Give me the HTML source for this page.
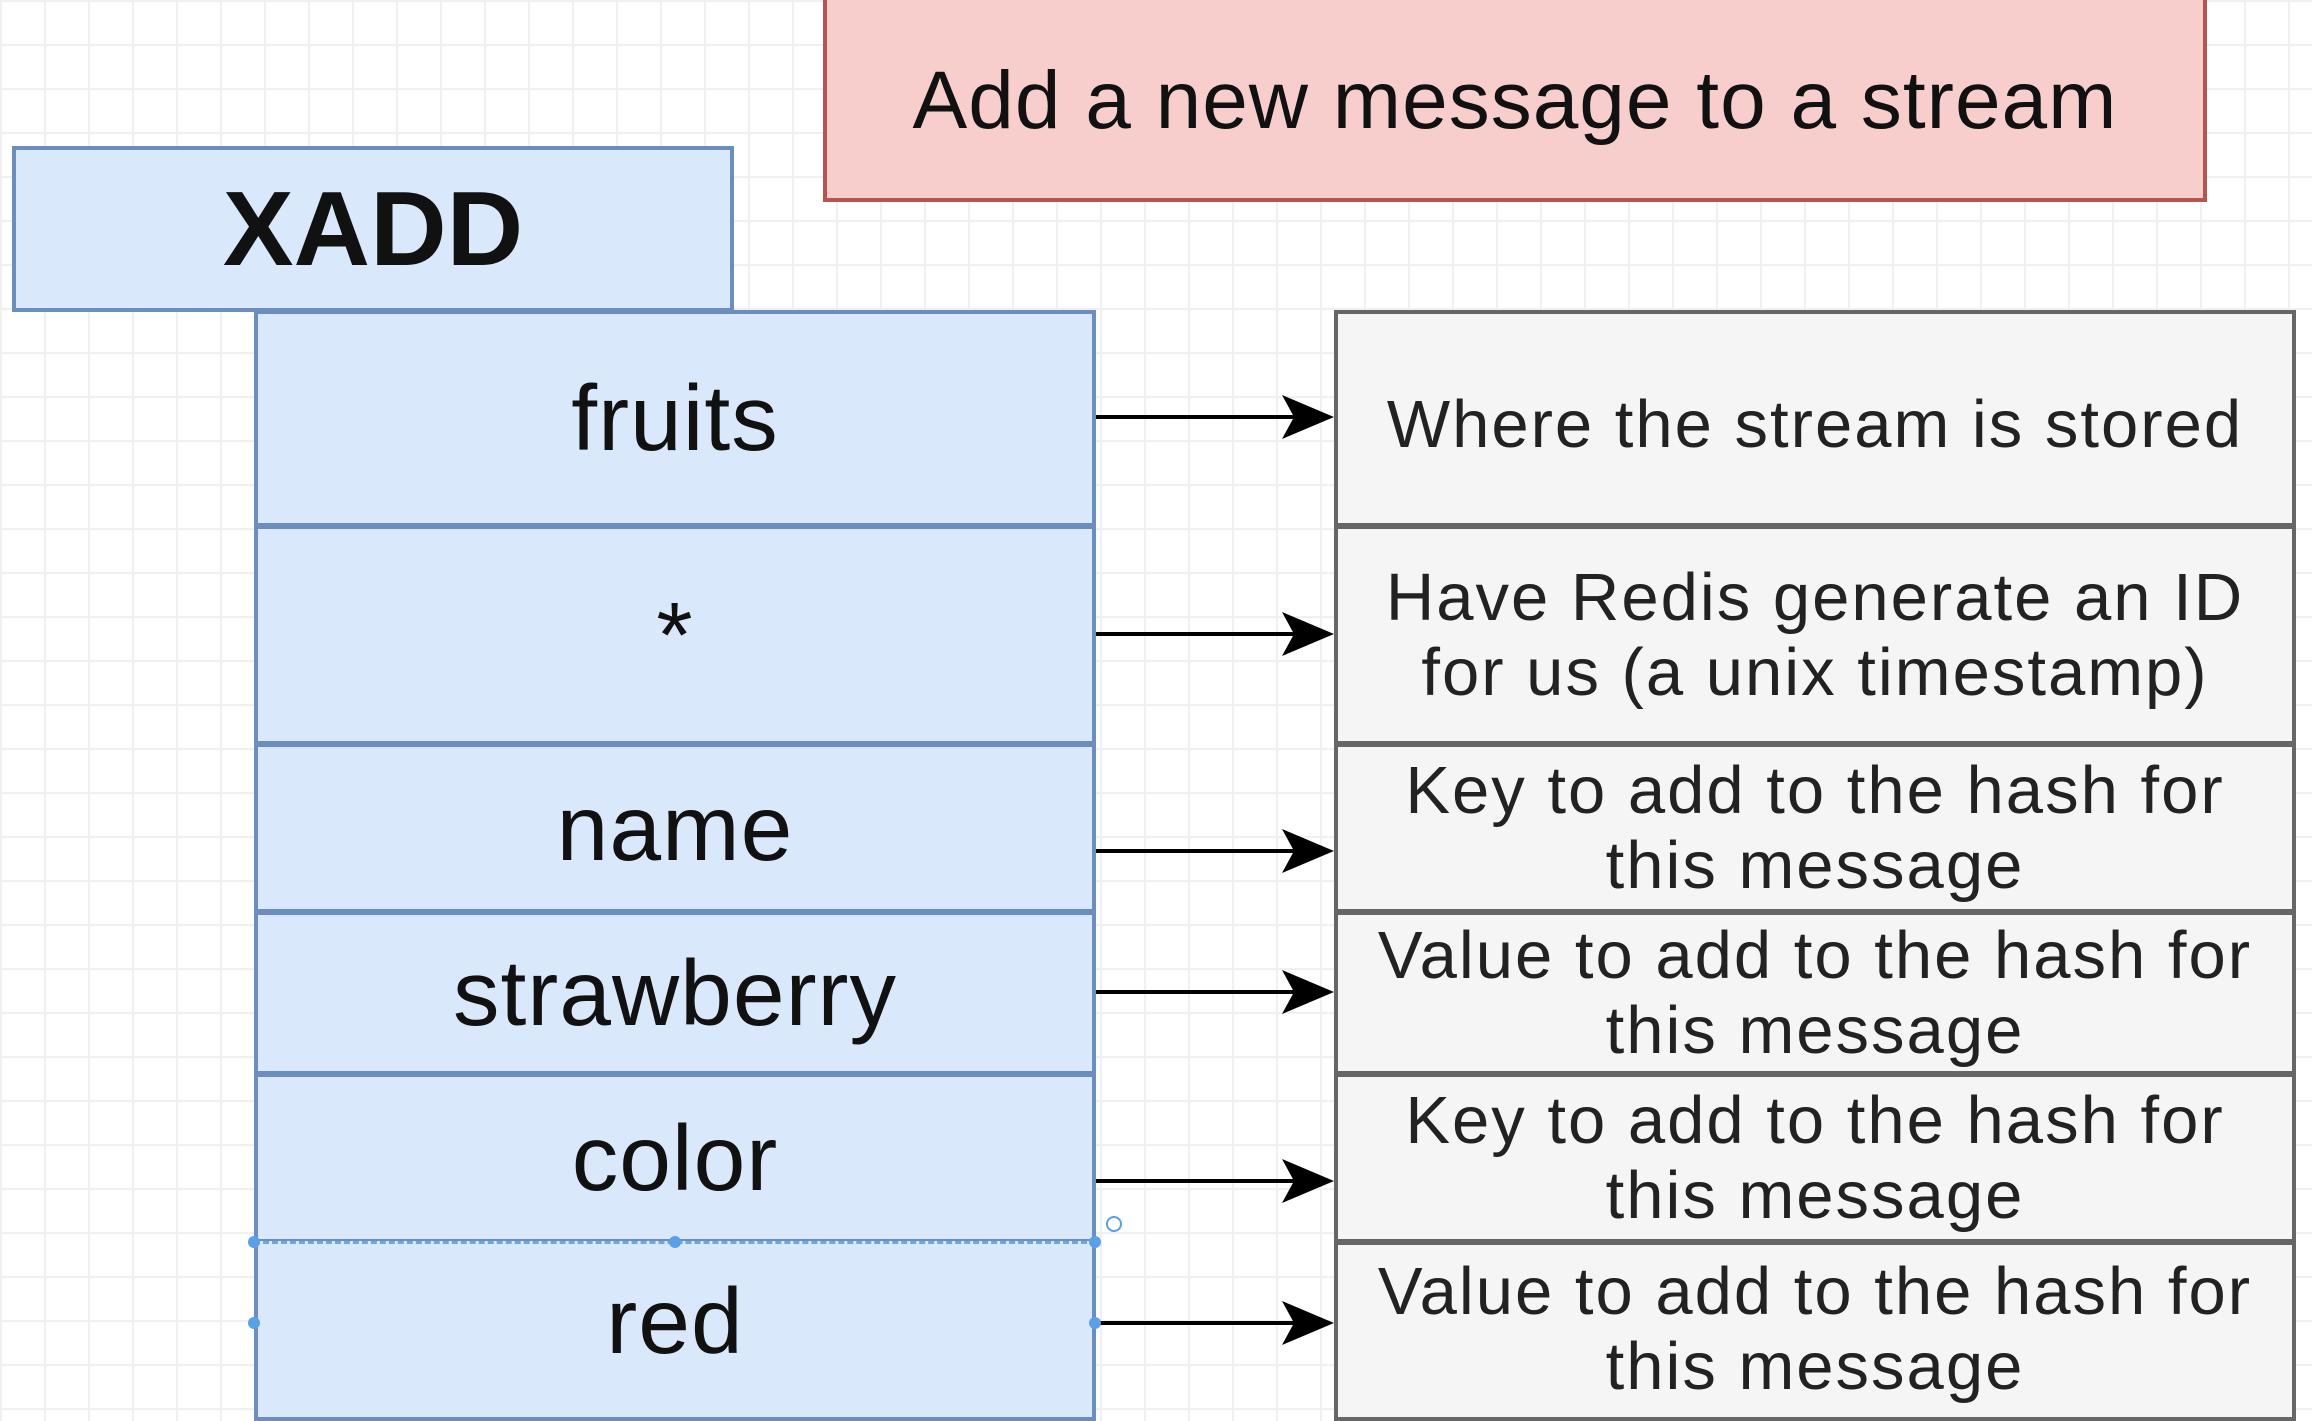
<!DOCTYPE html>
<html><head><meta charset="utf-8"><style>
html,body{margin:0;padding:0}
body{width:2312px;height:1400px;overflow:hidden;position:relative;background:#fff;
background-image:linear-gradient(#f0f0f0 2px,transparent 2px),linear-gradient(90deg,#f0f0f0 2px,transparent 2px);
background-size:44px 44px;font-family:"Liberation Sans",sans-serif;color:#111}
.b{position:absolute;box-sizing:border-box;display:flex;align-items:center;justify-content:center;text-align:center}
.blue{background:#dae8fc;border:4px solid #6c8ebf}
.gray{background:#f5f5f5;border:4px solid #666}
.l{font-size:93px;letter-spacing:1px}
.r{font-size:67px;line-height:1.12;letter-spacing:2px;color:#222}
</style></head><body>
<div class="b" style="left:823px;top:-20px;width:1384px;height:222px;background:#f8cecc;border:4px solid #b85450;font-size:82px;padding-top:20px;letter-spacing:1px">Add a new message to a stream</div>
<div class="b blue" style="left:12px;top:146px;width:722px;height:166px;font-size:106px;font-weight:bold">XADD</div>

<div class="b blue l" style="left:254px;top:310px;width:842px;height:217px">fruits</div>
<div class="b blue l" style="left:254px;top:525px;width:842px;height:220px">*</div>
<div class="b blue l" style="left:254px;top:743px;width:842px;height:170px">name</div>
<div class="b blue l" style="left:254px;top:911px;width:842px;height:164px">strawberry</div>
<div class="b blue l" style="left:254px;top:1073px;width:842px;height:170px">color</div>
<div class="b blue l" style="left:254px;top:1241px;width:842px;height:180px;border-top:3px dashed #6ea6e0;padding-bottom:18px">red</div>

<div class="b gray r" style="left:1334px;top:310px;width:962px;height:217px;padding-top:12px">Where the stream is stored</div>
<div class="b gray r" style="left:1334px;top:525px;width:962px;height:220px">Have Redis generate an ID<br>for us (a unix timestamp)</div>
<div class="b gray r" style="left:1334px;top:743px;width:962px;height:170px">Key to add to the hash for<br>this message</div>
<div class="b gray r" style="left:1334px;top:911px;width:962px;height:164px">Value to add to the hash for<br>this message</div>
<div class="b gray r" style="left:1334px;top:1073px;width:962px;height:170px">Key to add to the hash for<br>this message</div>
<div class="b gray r" style="left:1334px;top:1241px;width:962px;height:180px;padding-bottom:4px">Value to add to the hash for<br>this message</div>

<svg width="2312" height="1400" style="position:absolute;left:0;top:0">
<g stroke="#000" stroke-width="4">
<line x1="1096" y1="417" x2="1300" y2="417"/><path d="M1282,395 L1334,417 L1282,439 L1294,417 z" fill="#000" stroke="none"/>
<line x1="1096" y1="634" x2="1300" y2="634"/><path d="M1282,612 L1334,634 L1282,656 L1294,634 z" fill="#000" stroke="none"/>
<line x1="1096" y1="851" x2="1300" y2="851"/><path d="M1282,829 L1334,851 L1282,873 L1294,851 z" fill="#000" stroke="none"/>
<line x1="1096" y1="992" x2="1300" y2="992"/><path d="M1282,970 L1334,992 L1282,1014 L1294,992 z" fill="#000" stroke="none"/>
<line x1="1096" y1="1181" x2="1300" y2="1181"/><path d="M1282,1159 L1334,1181 L1282,1203 L1294,1181 z" fill="#000" stroke="none"/>
<line x1="1096" y1="1323" x2="1300" y2="1323"/><path d="M1282,1301 L1334,1323 L1282,1345 L1294,1323 z" fill="#000" stroke="none"/>
</g>
<g fill="#5aa0e6">
<circle cx="254" cy="1242" r="6"/><circle cx="675" cy="1242" r="6"/><circle cx="1095" cy="1242" r="6"/>
<circle cx="254" cy="1323" r="6"/><circle cx="1095" cy="1323" r="6"/>
</g>
<circle cx="1114" cy="1224" r="7" fill="none" stroke="#5aa0e6" stroke-width="2"/>
</svg>
</body></html>
